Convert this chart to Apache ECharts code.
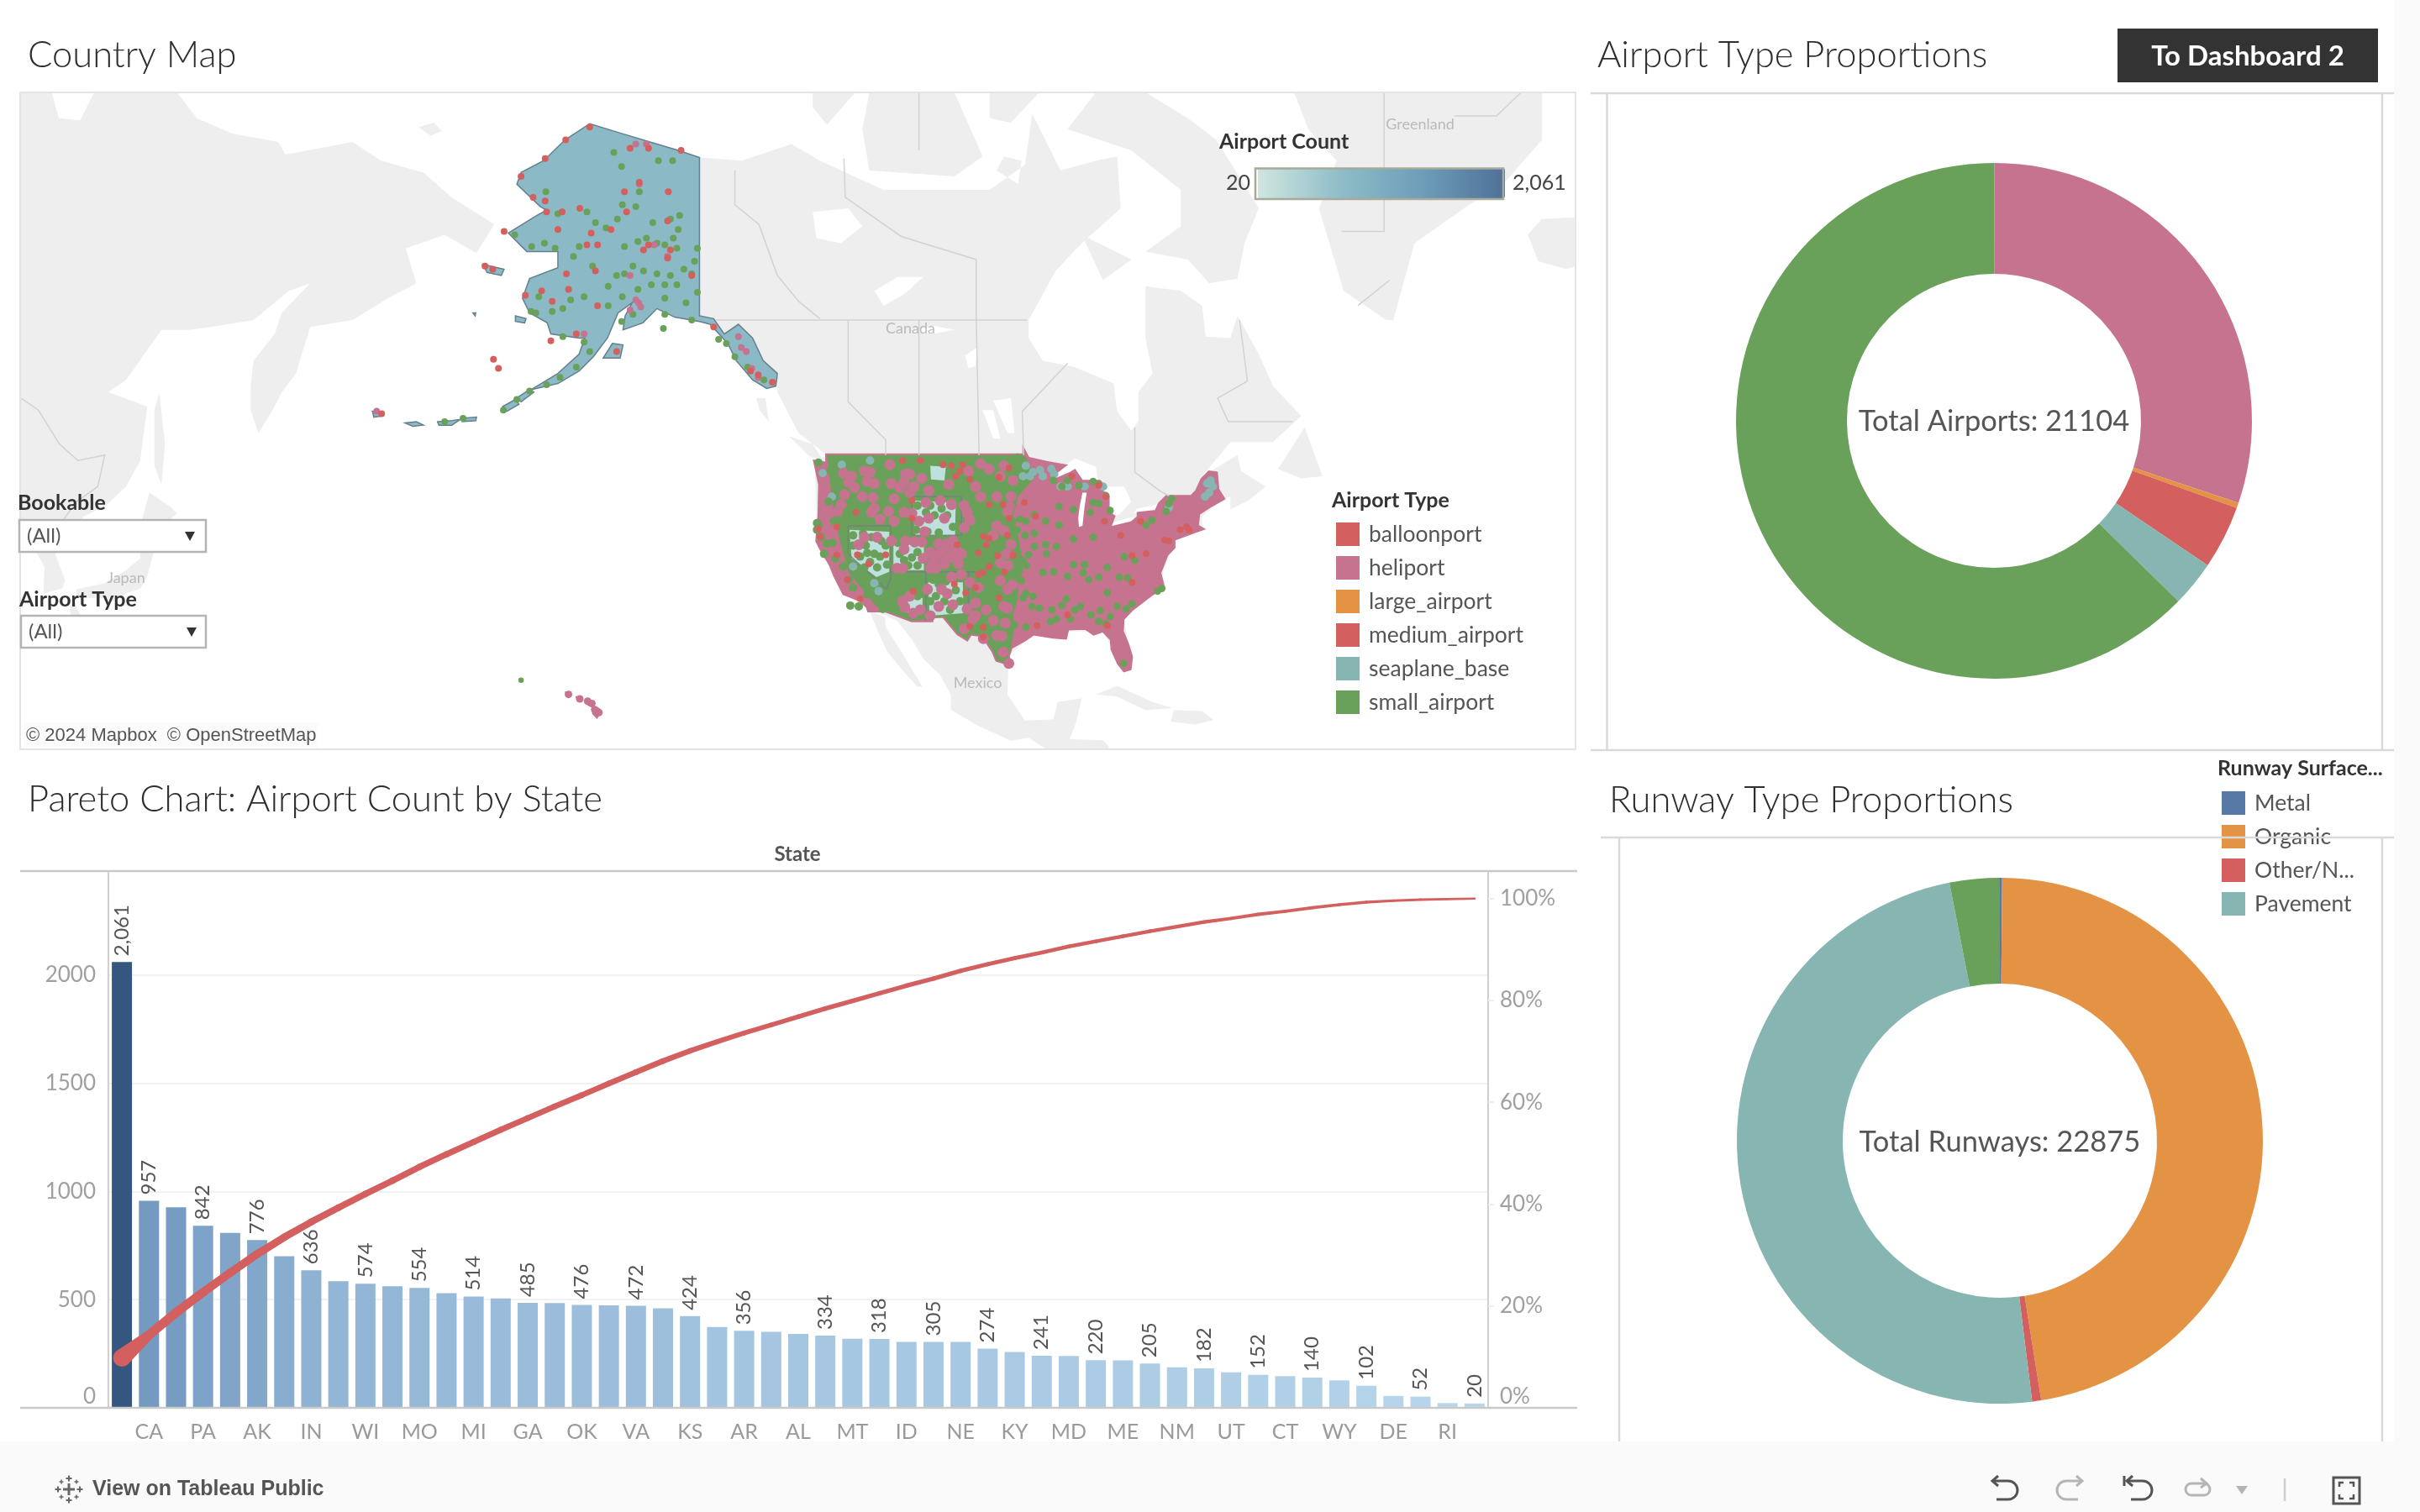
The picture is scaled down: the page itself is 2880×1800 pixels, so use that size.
<!DOCTYPE html>
<html><head><meta charset="utf-8">
<style>html,body{margin:0;padding:0;background:#fff}#c{width:2880px;height:1800px}</style>
<script src="https://cdn.jsdelivr.net/npm/echarts@6/dist/echarts.min.js"></script>
</head><body><div id="c"></div>
<script>
// ---------- Pareto data ----------
const states = ['TX','CA','FL','PA','OH','AK','IL','IN','NY','WI','MN','MO','WA','MI','OR','GA','NC','OK','LA','VA','CO','KS','NJ','AR','AZ','AL','IA','MT','TN','ID','MS','NE','SC','KY','ND','MD','SD','ME','NV','NM','MA','UT','WV','CT','NH','WY','VT','DE','HI','RI','DC'];
const stateCounts = [2061,957,927,842,809,776,701,636,585,574,562,554,530,514,506,485,484,476,474,472,460,424,374,356,351,342,334,319,318,305,305,305,274,258,241,240,220,219,205,187,182,164,152,147,140,127,102,55,52,22,20];
const cumulativePercent = [9.8,14.3,18.7,22.7,26.5,30.2,33.5,36.5,39.3,42.0,44.6,47.3,49.8,52.2,54.6,56.9,59.2,61.4,63.7,65.9,68.1,70.1,71.9,73.6,75.2,76.8,78.4,79.9,81.4,82.9,84.3,85.8,87.1,88.3,89.4,90.6,91.6,92.6,93.6,94.5,95.4,96.1,96.9,97.5,98.2,98.8,99.3,99.6,99.8,99.9,100];
const labelledBars = [0,1,3,5,7,9,11,13,15,17,19,21,23,26,28,30,32,34,36,38,40,42,44,46,48,50];
// ---------- Donuts ----------
const airportTypes = ['balloonport','heliport','large_airport','medium_airport','seaplane_base','small_airport'];
const airportTypeCounts = [5,6360,70,838,604,13227];
const runwayTypes = ['Metal','Organic','Other/N...','Pavement','Unlisted'];
const runwayCounts = [32,10830,127,11183,703];
const runwayLegend = ['Metal','Organic','Other/N...','Pavement'];
const stateChoropleth = [['Alaska',776]];
// ---------- Map outlines, [lon,lat]; Asia carries lon < -180 so it stays west of the date line ----------
const landAsia = [[-236.96,72.62],[-232.5,72.62],[-231.5,71.5],[-228.5,71.4],[-226.5,72.62],[-214.8,72.62],[-212,71.5],[-207,70.8],[-200.5,70.4],[-199.5,69.8],[-190,70.4],[-186,69.5],[-180,68.9],[-176,67.6],[-170,66.1],[-172.5,64.4],[-177,65.5],[-179,65.2],[-182.5,64.7],[-181,62.5],[-185,61.5],[-190,60],[-196,59.5],[-197,57.8],[-198,56],[-200,54.5],[-201.3,53],[-203.3,51],[-204.4,53],[-204.4,55],[-204,57],[-201,59],[-200,60.5],[-196,62.5],[-199,62],[-204,60],[-210,59.5],[-213,59.3],[-217,59.3],[-222,55.5],[-224.5,54.5],[-219,53.3],[-219.5,51],[-220,48.5],[-222,46],[-225,44],[-228,43],[-230,41],[-232,39],[-230.6,36],[-231,35.1],[-233.7,34.5],[-233.5,37.5],[-235,39.7],[-236.96,39.7]];
const landIslandsAsia = [
 [[-217.3,54.4],[-216.5,50],[-217,46.2],[-218,48],[-218,53]],
 [[-220,42],[-218.7,45.4],[-215.6,43.9],[-214.8,43.3],[-216.8,42],[-219,42.5]],
 [[-219,41.4],[-218,39.5],[-219,36.5],[-220,35.1],[-222,34.5],[-224,33.5],[-225,34],[-229,34],[-229,35],[-225,35.7],[-222,37.2],[-220,38.5],[-220,40.5]],
 [[-229.5,33.8],[-228.5,32],[-229.5,31.3],[-230,32.7]],
 [[-180.7,71.1],[-178.5,71.3],[-177.4,70.9],[-179,70.7]]
];
const landNorthAmerica = [[-141,69.65],[-135,69.5],[-128,70.3],[-124,69.5],[-115,68],[-108,68],[-100,68],[-95,69.3],[-94,71.7],[-90,69],[-85,69.5],[-82,69.7],[-81.5,67],[-87,65],[-90.7,63.3],[-94.5,60],[-94.5,58.7],[-92.5,57],[-88,56.5],[-82.5,55.2],[-82,52.9],[-80,51.2],[-79,52],[-79,54.5],[-77,56],[-78,58.7],[-78,62.3],[-73,62],[-70,61],[-69.5,58.8],[-66,58.7],[-65,60.3],[-62,57.5],[-60,55],[-56,52.5],[-60,50.2],[-66,50.2],[-70,47],[-65,49],[-64.5,47.5],[-61,46],[-63.5,44.6],[-66,43.7],[-66,45],[-67,44.8],[-70,43],[-70,41.5],[-74,40.5],[-75.5,37],[-76,35],[-81,31.5],[-80,26],[-81,25],[-82.8,28],[-84,30],[-89,30],[-94,29.5],[-97.3,27],[-97.5,22],[-95,18.5],[-91,18.7],[-90.4,21],[-87,21.5],[-87.8,18.3],[-88.7,16],[-84,15.9],[-83.2,15],[-83.2,14.64],[-92,14.64],[-94.5,16.2],[-97,15.8],[-102,18],[-105.5,20],[-105.5,22],[-107,24.5],[-109.3,26.5],[-111,29],[-113,31.2],[-114.8,32],[-117,32.5],[-120.6,34.5],[-124.4,40.3],[-124.7,48.4],[-123,49],[-127,51],[-130,54.5],[-130,56],[-132,57],[-133.5,58.7],[-135.5,59.7],[-137.5,59],[-139,60.1],[-141,60.3]];
const landIslandsAmerica = [
 [[-117,32.5],[-114.8,31.7],[-114.7,30.5],[-112.5,27.5],[-110.5,24.5],[-109.5,23],[-110.2,23],[-112.2,25],[-114.5,27.5],[-115.8,30]],
 [[-85,22],[-82,23.1],[-77,21],[-74.2,20.2],[-78,19.9],[-82,21.7]],
 [[-74,19.9],[-70,19.8],[-68.4,18.6],[-71,18],[-74.4,18.4]],
 [[-128.3,50.7],[-125,50],[-123.4,48.4],[-125.5,48.9]],
 [[-133,54],[-131.7,54],[-131.2,52],[-132.5,53]],
 [[-85,72.62],[-78,72.62],[-72,71.5],[-68,70.5],[-62,67],[-64,65],[-65,62.8],[-69,62.5],[-72,64],[-78,64.5],[-73,66],[-73,68],[-80,70],[-89,71]],
 [[-117,69],[-105,68.7],[-101,69.7],[-105,72.62],[-117,72.62],[-118,71]],
 [[-125,72.62],[-125,72],[-123,71.2],[-119,72.62]],
 [[-100,72.62],[-100,71.5],[-97,71.3],[-93,72.62]],
 [[-99,69],[-96,68.3],[-95.5,69.5],[-98,69.7]],
 [[-87,65.5],[-80,64],[-84,62.7]],
 [[-59.3,47.7],[-55.5,51.5],[-53,47],[-56,46.8]],
 [[-44,60],[-50,62],[-53.5,67],[-51,69.5],[-55,71],[-57,72.62],[-22,72.62],[-22,70.5],[-27,68.5],[-33,67],[-40,65],[-43,60]],
 [[-24,65.5],[-22,66.4],[-17.25,66.5],[-17.25,63.6],[-18.5,63.4],[-22.5,63.9]]
];
const lakes = [
 [[-125,66.8],[-120,67],[-118,66],[-121,65],[-124.5,65.3]],
 [[-116.3,62],[-113,62.9],[-109.4,62.9],[-112,61.8],[-115,61]],
 [[-111,59.2],[-108,59.6],[-105,59.3],[-108,59]],
 [[-103.5,57.4],[-101.8,58],[-102,56.6],[-103,56.4]],
 [[-99.5,53.8],[-97,54],[-96.5,51],[-97.5,51]],
 [[-101,53],[-99.5,53],[-98.5,50.5],[-99.5,50.5]],
 [[-92,46.7],[-88,48.7],[-85,47.9],[-84.7,46.6],[-87,46.5]],
 [[-84.5,46],[-81,46],[-80,44.5],[-81.7,43.2],[-82.5,43],[-83.5,44],[-83.5,45.5]],
 [[-83.4,41.7],[-79,42.8],[-80,42.9],[-83,42.3]],
 [[-79.7,43.3],[-76.3,43.6],[-76.3,44.2],[-79.2,43.8]],
 [[-79.5,57],[-77.5,56.5],[-78,55.5],[-79.5,55.2]]
];
const alaskaOutline = [[-141,69.65],[-144,70],[-148,70.4],[-152,70.8],[-156.5,71.25],[-160,70.5],[-163,69.5],[-166.2,68.9],[-166.8,68.3],[-163.5,67.1],[-162.6,66.9],[-164,66.6],[-168,65.6],[-165.4,64.5],[-161,64.5],[-161,63.5],[-165,62.8],[-166,61.5],[-165,60.5],[-162.5,59.8],[-162,59],[-158,58.7],[-157.2,58.7],[-158,57.5],[-161,56],[-164.8,54.7],[-161,55.2],[-158,56.2],[-156,57.3],[-154,58.7],[-152.5,60.5],[-150.5,61.2],[-151.5,60.3],[-151.8,59.3],[-149,59.8],[-147,60.8],[-144.5,60.2],[-141,59.9],[-139.5,59.7],[-137,58.3],[-135.8,57],[-133.5,55.5],[-131.5,54.8],[-130.2,55],[-130,56],[-132,57],[-133.5,58.7],[-135.5,59.7],[-137.5,59],[-139,60.1],[-141,60.3]];
const alaskaIslands = [
 [[-154.6,57.2],[-152.2,57.2],[-151.8,58.2],[-153.3,58.3]],
 [[-171.6,63.7],[-168.6,63.4],[-169,63],[-171,63.2]],
 [[-167,60.3],[-165.5,60.1],[-165.7,59.8],[-167,59.9]],
 [[-166.9,54],[-165,54.7],[-164.4,54.5],[-166.2,53.7]],
 [[-168.8,53.3],[-167,53.9],[-166.5,53.5],[-168.2,52.9]],
 [[-174.6,52.3],[-172.5,52.4],[-172.6,52.1],[-174.5,52]],
 [[-178,52],[-176,52.1],[-174.8,52.2],[-176,51.7],[-177.8,51.7]],
 [[-182.6,51.9],[-181,52],[-180,51.7],[-181.5,51.6]],
 [[-187.2,52.9],[-185.7,52.8],[-185.7,52.5],[-187,52.4]],
 [[-173,60.5],[-172.6,60.5],[-172.7,60.3]]
];
const hawaiiIslands = [
 [[-156,20.2],[-155,19.7],[-155.5,19],[-156,19.5]],
 [[-156.7,21],[-156,20.9],[-156.2,20.5],[-156.7,20.7]],
 [[-158.3,21.6],[-157.7,21.6],[-157.8,21.3],[-158.2,21.3]],
 [[-159.8,22.2],[-159.3,22.2],[-159.4,21.9],[-159.7,21.9]]
];
const lower48Outline = [[-123,49],[-95.15,49],[-95.15,49.4],[-94.6,48.7],[-92,48.3],[-89.5,48],[-92,46.7],[-90.5,46.7],[-88.5,47.3],[-88,47.5],[-87,46.5],[-84.5,46.5],[-83.8,46],[-84.7,45.8],[-83.3,45],[-83.3,44],[-83.9,43.7],[-82.5,43],[-83,42],[-83.4,41.7],[-80,42.3],[-79,42.9],[-79,43.3],[-76.5,43.5],[-76,44.3],[-75,45],[-71.5,45],[-70.8,45.5],[-70,46.7],[-69,47.4],[-68,47.3],[-67.8,45.7],[-67,44.8],[-69,44],[-70.5,43.3],[-70.7,42],[-70,41.7],[-71.5,41.3],[-74,40.6],[-74,39.7],[-75,38.9],[-75.8,37.3],[-76,36.9],[-75.5,35.3],[-77,34.5],[-78,33.9],[-80,32.6],[-81.2,31.5],[-81.3,30],[-80.5,28.3],[-80,26.8],[-80.2,25.3],[-81,25.1],[-81.8,26],[-82.7,27.8],[-82.8,29],[-84,30.1],[-85.3,29.7],[-86.5,30.4],[-89,30.3],[-89.3,29.2],[-91,29.3],[-93.8,29.7],[-95,29],[-97,28],[-97.4,26.9],[-97.2,25.9],[-99,26.4],[-99.5,27.5],[-101,29.5],[-102.7,29.7],[-103.2,29],[-104.5,29.7],[-106.5,31.8],[-108.2,31.8],[-108.2,31.3],[-111,31.3],[-114.8,32.5],[-117.1,32.5],[-117.3,33],[-118.4,33.8],[-120.6,34.5],[-121.9,36.6],[-122.5,37.8],[-123.8,39.5],[-124.4,40.4],[-124.1,43],[-124,46.2],[-124.7,48.4],[-123,48.2]];
const lakeMichigan = [[-87.4,41.9],[-86.9,42],[-86.6,44],[-86.3,45.4],[-86.9,45.4],[-87.3,44],[-87.5,42.8]];
const plainsDensity = [[-123,49],[-95.15,49],[-93.5,47],[-96,45],[-96.7,43],[-96,41],[-95.5,39],[-95.3,37],[-96,36],[-96,34],[-96.7,32],[-96.5,30.5],[-97,28],[-97.4,26.9],[-97.2,25.9],[-99,26.4],[-99.5,27.5],[-101,29.5],[-102.7,29.7],[-103.2,29],[-104.5,29.7],[-106.5,31.8],[-108.2,31.5],[-111,31.3],[-114.8,32.5],[-116,33],[-118,35],[-120,37],[-121,40],[-122,43],[-122.5,46]];
const sparseAreas = [
 [[-110.8,44.6],[-104.8,44.4],[-104.9,41],[-110.5,41]],
 [[-119.8,41.6],[-114.2,41.4],[-114.2,37],[-116,36.4],[-119.5,38.5]],
 [[-113.6,40.6],[-109.3,40.4],[-109.3,37.2],[-113.6,37.2]],
 [[-108.7,35.8],[-103.8,35.8],[-103.7,32.2],[-108.5,31.9]],
 [[-113,33.6],[-109.5,34],[-109.5,32.5],[-112,32.3]],
 [[-108.4,48],[-106.2,47.9],[-106.4,46.6],[-108.3,46.7]]
];
const borderLines = [
 [[-138.7,60],[-94.7,60]],
 [[-120,60],[-120,53.7],[-114.7,50.4],[-114.7,49]],
 [[-110,60],[-110,49]],[[-110,72.62],[-110,70]],
 [[-101.9,64],[-101.9,60],[-101.5,49]],
 [[-136,69],[-136,67.2],[-132.6,66.1],[-130,63],[-127,61.3],[-124,60.1]],
 [[-120.6,69.6],[-120.4,67.6],[-112.5,65.4],[-101.9,64]],
 [[-89,56.8],[-95.4,52.9],[-95.2,49]],
 [[-79.5,51.5],[-79.5,47.4],[-76,45.6],[-74.5,45]],
 [[-64.7,60],[-63.6,55.4],[-67.8,54],[-66.3,52],[-57.2,52]],
 [[-44.3,72.62],[-44.3,65.7],[-50.3,65.7]],
 [[-34.4,71.6],[-28.4,71.6],[-25,72.6]],
 [[-48,61],[-43.5,62.7]],
 [[-236.8,54],[-234.4,53],[-231.4,50],[-228.8,48.5],[-225,49],[-226,46],[-229,44.5],[-231,42.5]]
];
const stateLines = [
 [[-111,45],[-104,45],[-104,41],[-111,41],[-111,45]],
 [[-120,42],[-120,39],[-114.6,35],[-114,36.2],[-114,42],[-120,42]],
 [[-114,37],[-102,37]],[[-109,37],[-109,31.3]],[[-103,37],[-103,32]]
];
const mapPlaces = [['Canada',-111.2,59.4],['Greenland',-39.2,71.2],['Mexico',-101.7,23.5],['Japan',-222,36.3]];
// ---------- Airports read by eye, [lon,lat] ----------
const alaskaSmall = [[-153.1,69.9],[-152,69.2],[-146.8,69.5],[-144.8,69.5],[-149.5,67.9],[-162.7,67.9],[-161,66.7],[-156.9,66.8],[-150,67.1],[-151.9,67.2],[-155.7,66.2],[-154.2,65.9],[-152.6,66.4],[-147.6,66.2],[-145.1,66.4],[-143.8,66.6],[-144,65.8],[-144.7,65.3],[-151.6,64.8],[-149.7,65.1],[-148.5,65.3],[-147,65],[-145.9,64.9],[-144.2,64.7],[-158,64.8],[-158.8,64.2],[-141.3,64.7],[-141.7,63.9],[-143.2,63.4],[-142.1,63.1],[-145.1,63],[-141.3,61.9],[-142.9,61.2],[-144.2,62.4],[-145.9,62.4],[-147,63.1],[-148.9,63.3],[-150.4,63.6],[-151.6,63.1],[-152.7,63],[-153.9,62.3],[-156.1,63.6],[-157.3,61.6],[-159.2,61.4],[-160.3,60.8],[-163.7,61.6],[-164.1,60.5],[-161.8,60.6],[-153.9,61],[-151.9,61.6],[-149.7,62.1],[-147.8,62.4],[-145.9,61.5],[-167.1,65.5],[-164.7,64.8],[-162.9,65],[-161.4,64.7],[-164.8,60.6],[-160.3,58.8],[-157.3,58.4],[-156.5,57.7],[-158.4,56.5],[-160.7,55.7],[-162.6,55.1],[-165,54.6],[-166.8,53.9],[-168.7,53],[-174.4,52.3],[-177,52],[-152,59.9],[-150.4,60.4],[-145.9,60.4],[-142.1,60],[-146.1,59.4],[-138.3,58.6],[-137.2,58.3],[-136,57.3],[-134.2,56.5],[-131.9,55.5]];
const alaskaMedium = [[-156.5,71.1],[-159.9,70.5],[-162.8,69.6],[-166.2,68.7],[-164.5,67.6],[-162.8,67.4],[-160.4,66.8],[-162.6,66.8],[-168.6,65.7],[-161,65.8],[-157.9,67],[-151.6,67.9],[-149.5,68.4],[-145.4,67.9],[-151.3,66.8],[-156.3,65.6],[-153.5,65.8],[-156.9,64.9],[-155.4,64.9],[-148.9,64.6],[-145.1,64.6],[-145.5,64.1],[-155.7,63.3],[-159.8,63.1],[-163.3,62],[-165.6,61.7],[-161.8,61.3],[-159.5,62.1],[-155.4,61],[-148.2,64.9],[-142.1,63],[-145.5,66.3],[-150.8,70.1],[-148.2,70.1],[-143.6,70],[-162,58.5],[-158.4,59],[-152.7,57.7],[-139,59.5],[-133.8,56.2],[-132.7,55.9],[-130.7,55.3],[-170.1,57.1],[-169.4,56.4],[-171.3,63.6],[-170.2,63.4],[-185.9,52.7]];
const alaskaHeli = [[-150,70.3],[-148.5,70.3],[-149.6,61.2],[-150,61.4],[-149.3,60.9],[-150.8,60.7],[-150.8,63],[-149.5,68.3],[-145.5,64.2],[-147.4,64.9],[-135.5,58.8],[-135.1,58],[-134.4,57.7],[-133.6,56.4],[-132.7,55.7],[-157.3,59],[-186.6,52.9]];
const westHeli = [[-120.65,47.3],[-119.5,47],[-119.9,46.4],[-119.1,45.9],[-117.7,47.5],[-116.9,47.4],[-117.3,46.5],[-116.3,46.3],[-114.1,48.1],[-113.9,46.3],[-112.7,45.9],[-111.9,47.2],[-111.3,47.2],[-109.6,46.8],[-112.1,46.4],[-111.3,45.4],[-108.6,45.6],[-105.8,46.2],[-101.3,48.2],[-100.1,47.7],[-98.5,47],[-96.7,46.6],[-101.3,45],[-103.6,44.1],[-103.2,43.4],[-109,44.4],[-107,44.6],[-105.4,44.2],[-121,44.2],[-116.5,44.9],[-116.3,43.8],[-116.7,43.4],[-114.3,43.5],[-115.5,42.7],[-113.5,42.5],[-112.1,43.4],[-111,43.3],[-110,42.5],[-108.6,42.8],[-106.4,42.8],[-102.8,42.6],[-103.6,41.8],[-109.2,41.4],[-110.6,40.3],[-117.7,40.8],[-115.9,40.8],[-118.5,40],[-113.9,40.4],[-111.9,40.4],[-112.1,39.5],[-109.6,40.3],[-108.4,39.2],[-107.2,40.1],[-106,40.1],[-104.8,39.5],[-104,39],[-106.8,39],[-105.6,38.6],[-108,38],[-108.4,37.4],[-109.4,38.5],[-112.3,37.4],[-113.1,37.4],[-105.4,36.4],[-104,36.7],[-102.8,35.8],[-101.6,35.2],[-102,33.4],[-106,34.5],[-106.8,35],[-108.8,35],[-112.3,33.6],[-111.3,34.2],[-112,32.9],[-110.8,32.2],[-109.8,32.6],[-108.4,31.9],[-107.2,33],[-105.2,33.2],[-103.2,32.7],[-102,31.9],[-102.4,31.5],[-100.5,32.6],[-99.5,31.3],[-103.6,30.3],[-100.9,29.1],[-98.1,27.4],[-97.3,26],[-106.8,39.6],[-105.8,39.8],[-105,38.9],[-107.4,38.8],[-104.4,37.9],[-106.4,37.9],[-107.6,37.4],[-105.2,40.4],[-98,48],[-97,45],[-99,45],[-97.5,43.5],[-99,42],[-97,40],[-98.5,36],[-97.5,35],[-98,33],[-97.8,31],[-99,29.5],[-98.3,29.4],[-97.4,37.7],[-97.6,39],[-98.5,38],[-98,41.5],[-99.5,41],[-97.2,44],[-96.8,35.5],[-97.5,32.8],[-103,47.5],[-102,46],[-110.7,46],[-113.5,44.8],[-118,45],[-120.5,45.2],[-121.5,43.5]];
const westSmall = [[-108.4,44.1],[-106.8,43.8],[-106,43.1],[-105.2,41.9],[-110.4,41.6],[-107.2,41.3],[-108.8,41.4],[-110.2,44.1],[-107.8,43.1],[-109,43.4],[-119.3,41],[-117.9,41.2],[-119.3,39.9],[-117.5,39.9],[-116.7,40.8],[-117.3,39.1],[-116.3,39],[-115.5,38.7],[-114.7,39.9],[-115.3,40.4],[-118.3,38.7],[-116.9,38.1],[-114.5,37.8],[-115.9,37.5],[-117.7,37.5],[-113,40.2],[-112.7,39],[-111,38.6],[-110.2,39.2],[-111.5,37.7],[-110.2,37.7],[-112.1,38.3],[-108,36.1],[-107.2,35.6],[-106.2,35.9],[-107.6,34.2],[-106.4,33.6],[-104.8,34.9],[-104.2,33.6],[-108.4,33.6],[-105.6,32.6],[-113.5,33.6],[-112.7,32.7],[-110.2,34.2],[-124.4,42.3],[-124.2,42],[-123.8,40.8],[-123,40.1],[-122.2,40.2],[-123.4,39],[-124.4,41.6],[-119.7,33.1],[-118.5,33],[-121.8,38.5],[-120.7,37.6],[-119.9,36.1],[-119.3,35.2],[-117.7,35.6],[-117.3,34.4],[-115.7,33.6],[-115.1,32.7],[-124.2,48.3],[-122.5,47.5],[-121.5,46],[-122.8,44.5],[-122,42.5]];
const eastSmall = [[-96.5,48.4],[-96.9,47.6],[-96.1,48.8],[-91,46.6],[-89.8,46],[-89,46.6],[-87.4,46.1],[-85.4,46.5],[-84.6,46.2],[-83.6,45.1],[-83,43.6],[-84.6,44.3],[-85.8,43.4],[-85.4,44.4],[-96.7,42.5],[-94.9,42.5],[-96.1,41.6],[-96.7,39.5],[-96.1,39.3],[-95.3,38.3],[-96.5,38.1],[-96.9,37.5],[-93.7,39.8],[-92.1,40],[-92,39],[-91,37],[-92.5,36.9],[-93.9,34.2],[-95.3,34],[-94.9,34.5],[-89.8,33.1],[-89.2,33.9],[-90.6,31.5],[-88.6,31.5],[-91.4,31.2],[-93,32.8],[-96.5,30.8],[-97.3,31.5],[-94.9,30.5],[-84.4,32.5],[-83.6,30.9],[-84.6,31.2],[-83,31.8],[-79.9,33.3],[-80.7,32.7],[-75.7,35.1],[-76.3,34.8],[-81,38.7],[-79.5,38.3],[-83.4,37.5],[-86.6,37.8],[-88.2,37.8],[-89,36.5],[-86.8,36.9],[-86,36.1],[-84.6,36.4],[-81.7,36.4],[-80.5,36.3],[-83.4,34.6],[-81.1,26],[-74.7,44.3],[-75.1,43.5],[-74.3,44.8],[-77.9,42.1],[-77.1,42.6],[-92.1,42.5],[-93.7,43.2],[-95.7,42.7],[-90.2,44],[-88.2,43.7],[-90.6,39.8],[-93.7,41.2],[-90.2,42.1],[-88.2,40.6],[-85.4,40.8],[-96,36.8],[-95.5,36],[-94.8,37.7],[-95,41],[-94.5,38.9],[-94,33],[-88,32.6],[-87.2,33],[-85.7,32],[-82,33],[-91.2,32.6]];
const seaplanes = [[-94.9,48],[-93.9,47.4],[-92.9,47.6],[-91.3,47.7],[-95.3,47],[-94.3,47],[-92.5,47],[-90,46],[-89,46],[-86.6,46],[-84,46],[-69.3,46.3],[-68.8,46.6],[-68.5,46],[-69,45.4],[-69.6,45],[-74.7,43.9],[-123.6,47.3],[-120.9,48.1],[-116.9,48.5],[-119.3,37.6],[-116.3,35.7],[-115.7,34.8],[-90.9,47.2],[-122.3,45]];
const mediumAirports = [[-112.3,48.5],[-109.8,48.5],[-106.6,48.1],[-105.4,48],[-103.8,48.1],[-97.3,47.8],[-104.8,47],[-102.8,46.7],[-98.7,46.9],[-104.2,47.5],[-111,44.6],[-100.1,44.2],[-98.1,44.2],[-97.3,42.8],[-124,40.9],[-124.2,41.7],[-118.9,43.4],[-111,42.8],[-118.7,38.9],[-114.7,38.9],[-117.1,37.9],[-104.6,40],[-101.6,39.1],[-100.5,40],[-98.9,38.8],[-100.1,37.6],[-101.6,36.7],[-101,36.9],[-97.9,37],[-96.7,38.8],[-103.4,34.6],[-105,35.6],[-102,35.2],[-110.8,34.8],[-98.7,34],[-100.9,30.5],[-100.9,29.3],[-102.8,30.6],[-118.3,33.9],[-120.1,36.1],[-121.6,38.9],[-121.6,41.9],[-97.5,41],[-100.1,40.7],[-100.9,40.9],[-83.8,42.5],[-81.5,41],[-78.7,42.5],[-73.1,41.6],[-72.2,41.9],[-71.8,41.6],[-75.3,40.5],[-74.7,40.4],[-77.9,39],[-79.9,38.8],[-79.9,35.8],[-83.4,30.7],[-84.6,46.1],[-83.6,45],[-88.4,47],[-89,32],[-93.3,30.7],[-93.5,43],[-96.7,38.9],[-95.1,44.4]];
const hawaiiHeli = [[-159.5,22],[-157.9,21.4],[-156.8,21.1],[-156.2,20.8],[-155.5,19.8],[-155.2,19.6],[-155.8,20]];
const hawaiiSmall = [[-166.2,23.85]];

// ---------- Colours and helpers ----------
const C = {pink:'#c6738f',orange:'#e49344',red:'#d35f5f',teal:'#87b5b2',green:'#6aa15a',blue:'#5879a5',text:'#333',land:'#eeeeee'};
const rad = Math.PI/180;
const mercDeg = lat => Math.log(Math.tan((45+lat/2)*rad))/rad;
const invMercDeg = y => (2*Math.atan(Math.exp(y*rad))/rad-90);
const poly = (name,rings) => ({type:'Feature',properties:{name},geometry:{type:'MultiPolygon',coordinates:rings.map(r=>[r])}});
echarts.registerMap('basemap',{type:'FeatureCollection',features:[
  poly('land',[landAsia,...landIslandsAsia,landNorthAmerica,...landIslandsAmerica]),
  poly('lakes',lakes),
  poly('Alaska',[alaskaOutline,...alaskaIslands]),
  poly('Hawaii',hawaiiIslands),
  poly('Lower48',[lower48Outline]),
  poly('Plains',[plainsDensity]),
  poly('Sparse',sparseAreas),
  poly('Michigan',[lakeMichigan])
]});
const font = 'Lato';
const T = (x,y,text,size,fill,weight,align) => ({type:'text',x,y,silent:true,style:{text,fontSize:size,fontFamily:font,fill:fill||C.text,fontWeight:weight||'normal',textAlign:align||'left',textVerticalAlign:'middle'}});
const R = (x,y,w,h,fill,stroke,lw) => ({type:'rect',silent:true,shape:{x,y,width:w,height:h},style:{fill:fill||'none',stroke:stroke||'none',lineWidth:lw||0}});
const L = (pts,stroke,lw) => ({type:'polyline',silent:true,shape:{points:pts},style:{stroke:stroke||'#ccc',lineWidth:lw||2,fill:'none'}});
const A = (cx,cy,r,a0,a1,stroke,lw) => ({type:'arc',silent:true,shape:{cx,cy,r,startAngle:a0,endAngle:a1},style:{stroke,lineWidth:lw,fill:'none'}});
const TRI = (pts,fill) => ({type:'polygon',silent:true,shape:{points:pts},style:{fill}});
const dropdown = (x,y,w,h) => [R(x,y,w,h,'#fff','#b4b4b4',2.5),T(x+9,y+h/2,'(All)',24,'#555'),TRI([[x+197,y+h/2-5],[x+209,y+h/2-5],[x+203,y+h/2+6]],'#333')];
const plus = (x,y,a,w) => [L([[x,y-a],[x,y+a]],'#666',w),L([[x-a,y],[x+a,y]],'#666',w)];
const hcol = '#d9d9d9';

const graphics = [
  R(2849,0,31,1716,'#fafafa'),
  R(0,1716,2880,84,'#fafafa'),
  // panel frames
  R(24,110,1851,782,'none','#e4e4e4',2),
  L([[1893,111],[2849,111]],hcol,2.5),
  L([[1912.5,111],[1912.5,893]],hcol,2.5),
  L([[2835,111],[2835,893]],hcol,2.5),
  L([[1893,893],[2849,893]],hcol,2.5),
  L([[1905,997],[2849,997]],hcol,2.5),
  L([[1927,997],[1927,1716]],hcol,2.5),
  L([[2835,997],[2835,1716]],hcol,2.5),
  L([[24,1037],[1877,1037]],'#c9c9c9',2.5),
  L([[24,1676],[1877,1676]],'#c9c9c9',2.5),
  // button
  R(2520,34,310,64,'#333'),
  T(2675,67,'To Dashboard 2',33,'#fff','bold','center'),
  // centre labels
  T(2373,502,'Total Airports: 21104',34.5,'#555','normal','center'),
  T(2380,1360,'Total Runways: 22875',34.5,'#555','normal','center'),
  // map texts
  T(1451,169,'Airport Count',25,'#333','bold'),
  T(1585,596,'Airport Type',25,'#333','bold'),
  T(2639,915,'Runway Surface...',25,'#333','bold'),
  R(1494,200.5,295,36.5,'none','#a7a99c',2.5),
  T(949,1017,'State',24,'#555','bold','center'),
  T(21,599,'Bookable',25,'#333','bold'),
  T(23,714,'Airport Type',25,'#333','bold'),
  ...dropdown(23,619,222,38),
  ...dropdown(25,733,220,38),
  R(28,860,350,30,'rgba(250,250,250,.8)'),
  {type:'text',x:31,y:876,silent:true,style:{text:'© 2024 Mapbox  © OpenStreetMap',fontSize:22,fontFamily:'Liberation Sans',fill:'#555',textVerticalAlign:'middle'}},
  // footer
  {type:'text',x:110,y:1773,silent:true,style:{text:'View on Tableau Public',fontSize:25,fontFamily:'Liberation Sans',fontWeight:'bold',fill:'#555',textVerticalAlign:'middle'}},
  ...plus(82,1773,7,3),...plus(82,1760,3.5,2),...plus(82,1786,3.5,2),...plus(69,1773,3.5,2),...plus(95,1773,3.5,2),
  ...plus(73,1764,2.5,1.5),...plus(91,1764,2.5,1.5),...plus(73,1782,2.5,1.5),...plus(91,1782,2.5,1.5),
  // toolbar: undo
  A(2390,1774,11,-Math.PI/2,Math.PI/2,'#555',3),L([[2372,1763],[2390,1763]],'#555',3),L([[2376,1785],[2390,1785]],'#555',3),L([[2378,1757],[2371,1763],[2378,1769]],'#555',3),
  // redo
  A(2459,1774,11,Math.PI/2,Math.PI*1.5,'#b5b5b5',3),L([[2459,1763],[2477,1763]],'#b5b5b5',3),L([[2459,1785],[2473,1785]],'#b5b5b5',3),L([[2471,1757],[2478,1763],[2471,1769]],'#b5b5b5',3),
  // revert
  A(2550,1774,11,-Math.PI/2,Math.PI/2,'#555',3),L([[2532,1763],[2550,1763]],'#555',3),L([[2536,1785],[2550,1785]],'#555',3),L([[2538,1757],[2531,1763],[2538,1769]],'#555',3),L([[2528,1757],[2528,1769]],'#555',3),
  // refresh
  A(2608,1773,7,Math.PI/2,Math.PI*1.5,'#b5b5b5',3),A(2623,1773,7,-Math.PI/2,Math.PI/2,'#b5b5b5',3),L([[2608,1766],[2623,1766]],'#b5b5b5',3),L([[2608,1780],[2623,1780]],'#b5b5b5',3),L([[2619,1760],[2626,1766],[2619,1771]],'#b5b5b5',3),
  TRI([[2661,1769],[2675,1769],[2668,1779]],'#b5b5b5'),
  L([[2719,1760],[2719,1787]],'#cfcfcf',2.5),
  // fullscreen
  R(2777,1759,31,31,'none','#555',3),
  L([[2784,1770],[2784,1765],[2789,1765]],'#555',2.5),L([[2796,1765],[2801,1765],[2801,1770]],'#555',2.5),L([[2784,1779],[2784,1784],[2789,1784]],'#555',2.5),L([[2796,1784],[2801,1784],[2801,1779]],'#555',2.5)
].map(e=>({...e,z:100}));
const titleStyle = {fontFamily:font,fontSize:43.5,fontWeight:300,color:'#2e2e2e',lineHeight:46};
const panelTitle = (text,left,cy) => ({text,left,top:cy-23,padding:0,textStyle:titleStyle});
const dots = (name,data,color,size,z) => ({type:'scatter',name,coordinateSystem:'geo',geoIndex:0,data,symbolSize:size,silent:true,z:z||5,itemStyle:{color,opacity:1}});
const legendBase = {orient:'vertical',padding:0,icon:'rect',itemWidth:28,itemHeight:28,itemGap:12,selectedMode:false,textStyle:{fontFamily:font,fontSize:26.5,color:'#555',padding:[0,0,0,6]}};

const option = {
  animation:false,
  backgroundColor:'#fff',
  textStyle:{fontFamily:font},
  title:[panelTitle('Country Map',33,66),panelTitle('Airport Type Proportions',1901,66),panelTitle('Pareto Chart: Airport Count by State',33,952),panelTitle('Runway Type Proportions',1915,953)],
  legend:[
    {...legendBase,left:1590,top:622,data:airportTypes},
    {...legendBase,left:2644,top:942,data:runwayLegend}
  ],
  visualMap:[
    {type:'continuous',show:false,seriesIndex:0,dimension:1,min:20,max:2061,inRange:{color:['#b8d7eb','#a0c1de','#7ea3c8','#5f83ac','#476c96','#34567f']}},
    {type:'continuous',seriesIndex:4,min:20,max:2061,orient:'horizontal',left:1459,top:200,itemWidth:36,itemHeight:294,text:['2,061','20'],textGap:9,calculable:false,hoverLink:false,realtime:false,padding:0,textStyle:{fontFamily:font,fontSize:25,color:'#444'},inRange:{color:['#cfe6df','#8fbdc8','#6d9db8','#4f7098']}}
  ],
  geo:{map:'basemap',
    projection:{project:p=>[p[0],-mercDeg(p[1])],unproject:p=>[p[0],invMercDeg(-p[1])]},
    boundingCoords:[[-236.96,72.62],[-17.25,14.64]],
    left:24,top:110,width:1851,height:782,roam:false,silent:true,z:1,
    itemStyle:{areaColor:C.land,borderWidth:0},
    emphasis:{disabled:true},select:{disabled:true},
    regions:[
      {name:'land',itemStyle:{areaColor:C.land,borderWidth:0}},
      {name:'lakes',itemStyle:{areaColor:'#fff',borderWidth:0}},
      {name:'Alaska',itemStyle:{borderColor:'#64808e',borderWidth:1.5}},
      {name:'Hawaii',itemStyle:{areaColor:C.pink,borderColor:C.pink,borderWidth:3}},
      {name:'Lower48',itemStyle:{areaColor:C.pink,borderColor:C.pink,borderWidth:4}},
      {name:'Plains',itemStyle:{areaColor:C.green,borderWidth:0}},
      {name:'Sparse',itemStyle:{areaColor:'#bfe1dd',borderWidth:0}},
      {name:'Michigan',itemStyle:{areaColor:'#fff',borderWidth:0}}
    ]},
  grid:{left:129,width:1642,top:1037,height:639,containLabel:false},
  xAxis:{type:'category',data:states,axisTick:{show:false},
    axisLine:{show:false},
    axisLabel:{interval:(i)=>i%2===1,margin:16,fontSize:25,fontFamily:font,color:'#9a9a9a'}},
  yAxis:[
    {type:'value',min:0,max:2481,interval:500,position:'left',
      axisLine:{show:true,lineStyle:{color:'#cfcfcf',width:2}},axisTick:{show:false},
      axisLabel:{margin:15,fontSize:26,fontFamily:font,color:'#a0a0a0',formatter:v=>String(v),showMaxLabel:false,verticalAlignMinLabel:'bottom'},
      splitLine:{show:true,lineStyle:{color:'#f1f1f1',width:2}}},
    {type:'value',min:0,max:105.4,interval:20,position:'right',
      axisLine:{show:true,lineStyle:{color:'#cfcfcf',width:2}},axisTick:{show:true,length:7,lineStyle:{color:'#eeeeee',width:2}},
      axisLabel:{margin:14,fontSize:26,fontFamily:font,color:'#a0a0a0',formatter:v=>v>100?'':v+'%',showMaxLabel:false,verticalAlignMinLabel:'bottom'},
      splitLine:{show:false}}
  ],
  series:[
    {type:'bar',name:'Airports',data:stateCounts,barWidth:24,z:2,
      label:{show:true,position:'top',rotate:90,distance:7,align:'left',verticalAlign:'middle',fontSize:24,fontFamily:font,color:'#555',
        formatter:p=>labelledBars.includes(p.dataIndex)?p.value.toLocaleString('en-US'):''}},
    {type:'custom',name:'Cumulative share',xAxisIndex:0,yAxisIndex:1,z:4,clip:false,silent:true,
      data:cumulativePercent.map((v,i)=>[i,v]),encode:{x:0,y:1},
      renderItem:(params,api)=>{
        const i=params.dataIndex, wd=k=>2.5+stateCounts[k]*0.009;
        const p=api.coord([i,cumulativePercent[i]]);
        const kids=[{type:'circle',shape:{cx:p[0],cy:p[1],r:wd(i)/2},style:{fill:C.red}}];
        if(i<cumulativePercent.length-1){
          const q=api.coord([i+1,cumulativePercent[i+1]]);
          const dx=q[0]-p[0],dy=q[1]-p[1],n=Math.hypot(dx,dy),nx=-dy/n,ny=dx/n,a=wd(i)/2,b=wd(i+1)/2;
          kids.push({type:'polygon',shape:{points:[[p[0]+nx*a,p[1]+ny*a],[q[0]+nx*b,q[1]+ny*b],[q[0]-nx*b,q[1]-ny*b],[p[0]-nx*a,p[1]-ny*a]]},style:{fill:C.red}});
        }
        return {type:'group',children:kids};
      }},
    {type:'pie',name:'Airport types',center:[2373,501],radius:[175,307],startAngle:90,label:{show:false},labelLine:{show:false},silent:true,
      color:[C.red,C.pink,C.orange,C.red,C.teal,C.green],
      data:airportTypes.map((n,i)=>({name:n,value:airportTypeCounts[i]}))},
    {type:'pie',name:'Runway types',center:[2380,1358],radius:[187,313],startAngle:90,label:{show:false},labelLine:{show:false},silent:true,
      color:[C.blue,C.orange,C.red,C.teal,C.green],
      data:runwayTypes.map((n,i)=>({name:n,value:runwayCounts[i]}))},
    {type:'map',name:'Airport Count',geoIndex:0,silent:true,data:stateChoropleth.map(d=>({name:d[0],value:d[1]}))},
    {type:'lines',name:'Borders',coordinateSystem:'geo',geoIndex:0,polyline:true,silent:true,z:3,lineStyle:{color:'#d2d2d2',width:1.5,opacity:1},data:borderLines.map(coords=>({coords}))},
    {type:'lines',name:'State lines',coordinateSystem:'geo',geoIndex:0,polyline:true,silent:true,z:4,lineStyle:{color:'#777a8a',width:1.5,opacity:.8},data:stateLines.map(coords=>({coords}))},
    {type:'scatter',name:'Places',coordinateSystem:'geo',geoIndex:0,symbolSize:0,silent:true,z:3,
      data:mapPlaces.map(d=>({name:d[0],value:[d[1],d[2]]})),
      label:{show:true,position:'inside',formatter:'{b}',fontSize:18,fontFamily:font,color:'#adadad'}},
    dots('seaplane_base',seaplanes,C.teal,10,5),
    dots('small_airport',alaskaSmall,C.green,8,6),
    dots('heliport',alaskaHeli,C.pink,8,6),
    dots('medium_airport',alaskaMedium,C.red,8,7),
    dots('small_airport',westSmall,C.green,10,6),
    dots('small_airport',eastSmall,C.green,9,6),
    dots('heliport',westHeli,C.pink,13,7),
    dots('heliport',hawaiiHeli,C.pink,9,7),
    dots('small_airport',hawaiiSmall,C.green,6.5,7),
    dots('medium_airport',mediumAirports,C.red,8,8)
  ],
  graphic:{elements:graphics}
};
const chart = echarts.init(document.getElementById('c'),null,{renderer:'canvas',width:2880,height:1800});
chart.setOption(option);
</script></body></html>
